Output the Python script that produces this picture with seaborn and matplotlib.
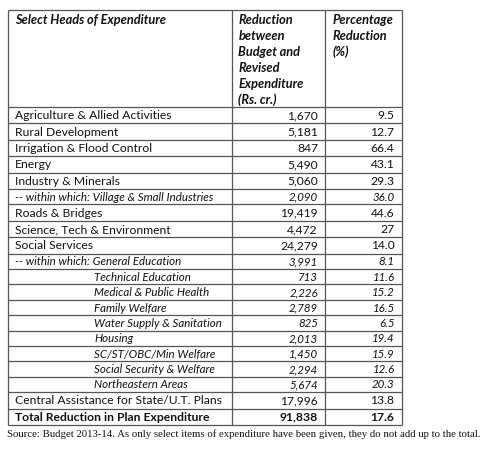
import matplotlib
matplotlib.use("Agg")
import matplotlib.pyplot as plt
import seaborn as sns

sns.set_theme(style="white")
plt.rcParams['font.family'] = ['Lato', 'DejaVu Sans']

# ---- data ----
heads = ["Agriculture & Allied Activities", "Rural Development", "Irrigation & Flood Control",
         "Energy", "Industry & Minerals", "-- within which: Village & Small Industries",
         "Roads & Bridges", "Science, Tech & Environment", "Social Services",
         "-- within which: General Education", "Technical Education", "Medical & Public Health",
         "Family Welfare", "Water Supply & Sanitation", "Housing", "SC/ST/OBC/Min Welfare",
         "Social Security & Welfare", "Northeastern Areas",
         "Central Assistance for State/U.T. Plans", "Total Reduction in Plan Expenditure"]
reduction = ["1,670", "5,181", "847", "5,490", "5,060", "2,090", "19,419", "4,472", "24,279",
             "3,991", "713", "2,226", "2,789", "825", "2,013", "1,450", "2,294", "5,674",
             "17,996", "91,838"]
pct = ["9.5", "12.7", "66.4", "43.1", "29.3", "36.0", "44.6", "27", "14.0", "8.1", "11.6",
       "15.2", "16.5", "6.5", "19.4", "15.9", "12.6", "20.3", "13.8", "17.6"]
# row style: n = normal, w = within-which (italic), s = sub item (italic, indented), b = bold
row_style = ["n", "n", "n", "n", "n", "w", "n", "n", "n", "w", "s", "s", "s", "s", "s", "s",
             "s", "s", "n", "b"]
header1 = "Select Heads of Expenditure"
header2 = ["Reduction", "between", "Budget and", "Revised", "Expenditure", "(Rs. cr.)"]
header3 = ["Percentage", "Reduction", "(%)"]
source = ("Source: Budget 2013-14. As only select items of expenditure have been given, "
          "they do not add up to the total.")

# ---- layout ----
W, H = 500, 454
fig = plt.figure(figsize=(W / 100, H / 100), dpi=100)
ax = fig.add_axes([0, 0, 1, 1])
ax.set_xlim(0, W)
ax.set_ylim(H, 0)
ax.axis("off")

x_edges = [8, 231.5, 325, 402]
top, head_bottom = 9.5, 107
heights = [16.4 if s in ("n", "b") else 15.4 for s in row_style]
y_edges = [head_bottom]
for h in heights:
    y_edges.append(y_edges[-1] + h)
bottom = y_edges[-1]

lc, lw = "#555555", 0.9
ax.hlines([top] + y_edges, x_edges[0], x_edges[-1], color=lc, lw=lw)
ax.vlines(x_edges, top, bottom, color=lc, lw=lw)

fs_n, fs_i, fs_h = 8.7, 8.3, 9.2
txt = "#111111"

ax.text(15, top + 10, header1, fontsize=fs_h, fontweight="bold", fontstyle="italic",
        va="center", ha="left", color=txt)
for i, s in enumerate(header2):
    ax.text(x_edges[1] + 7, top + 10 + 16 * i, s, fontsize=fs_h, fontweight="bold",
            fontstyle="italic", va="center", ha="left", color=txt)
for i, s in enumerate(header3):
    ax.text(x_edges[2] + 8, top + 10 + 16 * i, s, fontsize=fs_h, fontweight="bold",
            fontstyle="italic", va="center", ha="left", color=txt)

for i, (lab, r, p, st) in enumerate(zip(heads, reduction, pct, row_style)):
    yc = (y_edges[i] + y_edges[i + 1]) / 2 + 0.5
    if st == "n":
        kw = dict(fontsize=fs_n)
    elif st == "b":
        kw = dict(fontsize=fs_n, fontweight="bold")
    else:
        kw = dict(fontsize=fs_i, fontstyle="italic")
    lx = 94 if st == "s" else 15
    ax.text(lx, yc, lab, va="center", ha="left", color=txt, **kw)
    ax.text(x_edges[2] - 7, yc, r, va="center", ha="right", color=txt, **kw)
    ax.text(x_edges[3] - 7.5, yc, p, va="center", ha="right", color=txt, **kw)

ax.text(7, bottom + 9, source, fontsize=7.72, family=["Liberation Serif"], va="center",
        ha="left", color="#111111")

fig.savefig("out.png", dpi=100, facecolor="white")
